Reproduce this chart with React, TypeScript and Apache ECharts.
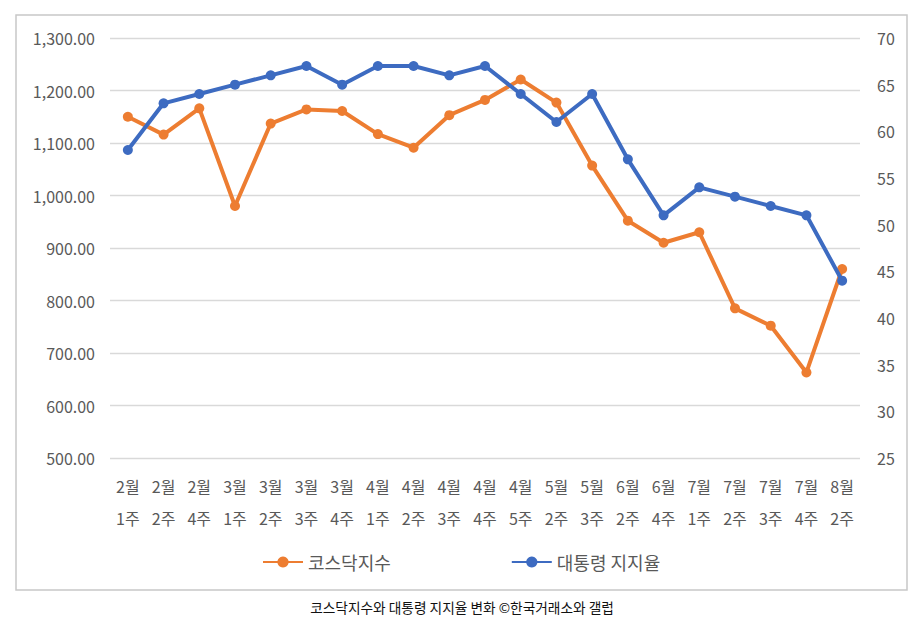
import React, { useEffect, useRef } from "react";
import * as echarts from "echarts";

const months = ["2월", "2월", "2월", "3월", "3월", "3월", "3월", "4월", "4월", "4월", "4월", "4월", "5월", "5월", "6월", "6월", "7월", "7월", "7월", "7월", "8월"];
const weeks = ["1주", "2주", "4주", "1주", "2주", "3주", "4주", "1주", "2주", "3주", "4주", "5주", "2주", "3주", "2주", "4주", "1주", "2주", "3주", "4주", "2주"];
const kosdaq = [1150, 1116, 1166, 980, 1137, 1164, 1161, 1117, 1091, 1153, 1182, 1221, 1177, 1057, 952, 910, 930, 785, 752, 663, 860];
const approval = [58, 63, 64, 65, 66, 67, 65, 67, 67, 66, 67, 64, 61, 64, 57, 51, 54, 53, 52, 51, 44];
const seriesNames = ["코스닥지수", "대통령 지지율"];
const caption = "코스닥지수와 대통령 지지율 변화 ©한국거래소와 갤럽";

const FONT = "'Noto Sans CJK KR', 'Noto Sans', sans-serif";
const ORANGE = "#ED7D31";
const BLUE = "#3D6BC1";

export default function App() {
  const ref = useRef<HTMLDivElement>(null);
  useEffect(() => {
    if (!ref.current) return;
    const chart = echarts.init(ref.current, undefined, { renderer: "svg" });
    const categories = months.map((m, i) => `${m}\n${weeks[i]}`);
    chart.setOption({
      animation: false,
      backgroundColor: "#ffffff",
      textStyle: { fontFamily: FONT },
      grid: { left: 110, right: 60, top: 38, bottom: 169 },
      legend: {
        top: 548,
        left: 257,
        itemWidth: 40,
        itemHeight: 14,
        itemGap: 120,
        textStyle: { fontSize: 18, color: "#595959", fontFamily: FONT },
        data: seriesNames,
      },
      xAxis: {
        type: "category",
        data: categories,
        boundaryGap: true,
        axisLine: { show: false },
        axisTick: { show: false },
        axisLabel: {
          color: "#595959",
          fontSize: 16,
          lineHeight: 32,
          margin: 12,
          interval: 0,
          fontFamily: FONT,
        },
      },
      yAxis: [
        {
          type: "value",
          min: 500,
          max: 1300,
          interval: 100,
          axisLine: { show: false },
          axisTick: { show: false },
          splitLine: { lineStyle: { color: "#d9d9d9", width: 1.3 } },
          axisLabel: {
            color: "#595959",
            fontSize: 16,
            margin: 15,
            fontFamily: FONT,
            formatter: (v: number) =>
              v.toLocaleString("en-US", { minimumFractionDigits: 2, maximumFractionDigits: 2 }),
          },
        },
        {
          type: "value",
          min: 25,
          max: 70,
          interval: 5,
          position: "right",
          axisLine: { show: false },
          axisTick: { show: false },
          splitLine: { show: false },
          axisLabel: { color: "#595959", fontSize: 16, margin: 17, fontFamily: FONT },
        },
      ],
      series: [
        {
          name: seriesNames[0],
          type: "line",
          yAxisIndex: 0,
          data: kosdaq,
          symbol: "circle",
          symbolSize: 10,
          itemStyle: { color: ORANGE },
          lineStyle: { color: ORANGE, width: 4 },
          z: 2,
        },
        {
          name: seriesNames[1],
          type: "line",
          yAxisIndex: 1,
          data: approval,
          symbol: "circle",
          symbolSize: 10,
          itemStyle: { color: BLUE },
          lineStyle: { color: BLUE, width: 4 },
          z: 3,
        },
      ],
      graphic: [
        {
          type: "rect",
          shape: { x: 16, y: 15, width: 891, height: 575 },
          style: { fill: "none", stroke: "#c8c8c8", lineWidth: 1.5 },
          silent: true,
          z: -1,
        },
        {
          type: "text",
          x: 462,
          y: 607,
          style: {
            text: caption,
            fontSize: 13.7,
            fill: "#111111",
            fontFamily: FONT,
            textAlign: "center",
            textVerticalAlign: "middle",
          },
        },
      ],
    });
    return () => chart.dispose();
  }, []);
  return (
    <div
      ref={ref}
      style={{ position: "fixed", left: 0, top: 0, width: 920, height: 627 }}
    />
  );
}
